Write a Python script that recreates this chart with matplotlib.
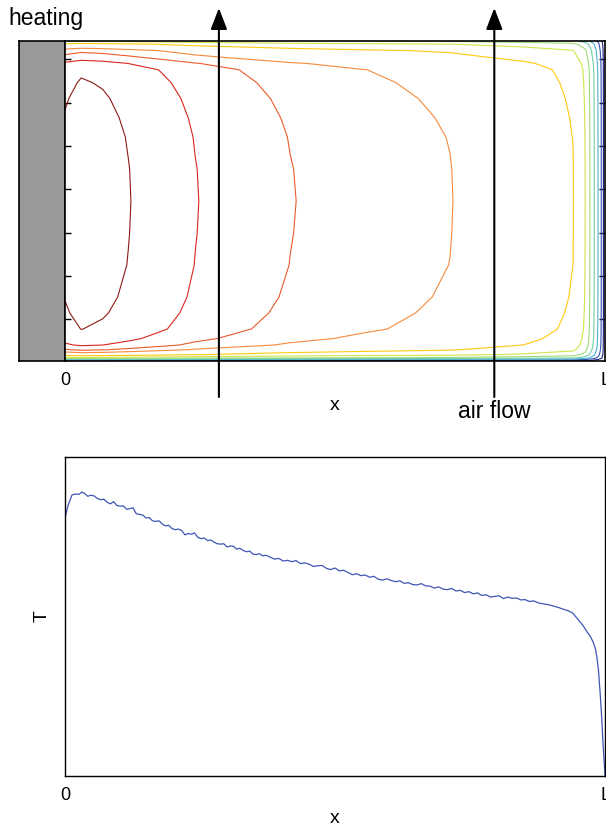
import matplotlib
matplotlib.use("Agg")
import matplotlib.pyplot as plt
import numpy as np

plt.rcParams['font.family'] = ['Liberation Sans', 'DejaVu Sans']

# temperature along the channel (x / L)
x_line = [0.000, 0.006, 0.013, 0.020, 0.026, 0.031, 0.036, 0.042, 0.048, 0.054,
          0.060, 0.066, 0.072, 0.078, 0.084, 0.090, 0.096, 0.102, 0.108, 0.114,
          0.120, 0.126, 0.132, 0.138, 0.144, 0.150, 0.156, 0.162, 0.168, 0.174,
          0.180, 0.186, 0.192, 0.198, 0.204, 0.210, 0.216, 0.222, 0.228, 0.234,
          0.240, 0.246, 0.252, 0.258, 0.264, 0.270, 0.276, 0.282, 0.288, 0.294,
          0.300, 0.306, 0.312, 0.318, 0.324, 0.330, 0.336, 0.342, 0.348, 0.354,
          0.360, 0.366, 0.372, 0.380, 0.388, 0.396, 0.404, 0.412, 0.420, 0.428,
          0.436, 0.444, 0.452, 0.460, 0.468, 0.476, 0.484, 0.492, 0.500, 0.508,
          0.516, 0.524, 0.532, 0.540, 0.548, 0.556, 0.564, 0.572, 0.580, 0.588,
          0.596, 0.604, 0.612, 0.620, 0.628, 0.636, 0.644, 0.652, 0.660, 0.668,
          0.676, 0.684, 0.692, 0.700, 0.708, 0.716, 0.724, 0.732, 0.740, 0.748,
          0.756, 0.764, 0.772, 0.780, 0.788, 0.796, 0.804, 0.812, 0.820, 0.828,
          0.836, 0.844, 0.852, 0.860, 0.868, 0.876, 0.884, 0.892, 0.900, 0.908,
          0.916, 0.924, 0.932, 0.940, 0.948, 0.954, 0.960, 0.967, 0.972, 0.978,
          0.982, 0.985, 0.988, 0.991, 0.994, 0.996, 0.998, 1.000]
t_line = [0.809, 0.850, 0.881, 0.884, 0.883, 0.890, 0.886, 0.877, 0.880, 0.878,
          0.870, 0.866, 0.868, 0.858, 0.853, 0.860, 0.848, 0.846, 0.847, 0.836,
          0.838, 0.841, 0.822, 0.820, 0.818, 0.809, 0.810, 0.800, 0.798, 0.800,
          0.790, 0.784, 0.786, 0.776, 0.772, 0.774, 0.770, 0.756, 0.760, 0.758,
          0.762, 0.748, 0.744, 0.746, 0.738, 0.740, 0.733, 0.728, 0.727, 0.728,
          0.718, 0.721, 0.720, 0.711, 0.714, 0.707, 0.703, 0.705, 0.696, 0.694,
          0.697, 0.690, 0.692, 0.686, 0.680, 0.682, 0.674, 0.676, 0.672, 0.675,
          0.666, 0.668, 0.664, 0.657, 0.659, 0.660, 0.651, 0.647, 0.652, 0.643,
          0.645, 0.638, 0.631, 0.634, 0.628, 0.630, 0.623, 0.626, 0.617, 0.614,
          0.618, 0.613, 0.609, 0.612, 0.604, 0.606, 0.600, 0.599, 0.603, 0.596,
          0.595, 0.589, 0.593, 0.586, 0.584, 0.588, 0.580, 0.582, 0.575, 0.578,
          0.571, 0.574, 0.566, 0.568, 0.561, 0.563, 0.565, 0.556, 0.561, 0.557,
          0.558, 0.552, 0.553, 0.547, 0.549, 0.543, 0.540, 0.538, 0.535, 0.531,
          0.527, 0.522, 0.518, 0.511, 0.495, 0.483, 0.470, 0.451, 0.440, 0.420,
          0.400, 0.373, 0.330, 0.260, 0.180, 0.113, 0.055, 0.000]

# coarse temperature table for the upper panel: mid-height profile along x
field_x = [0.0, 0.03, 0.07, 0.117, 0.18, 0.241, 0.33, 0.417, 0.55, 0.713, 0.85,
           0.941, 0.963, 0.972, 0.980, 0.987, 0.993, 0.997, 1.0]
field_t = [0.96, 0.975, 0.968, 0.952, 0.927, 0.902, 0.876, 0.852, 0.828, 0.802,
           0.752, 0.702, 0.602, 0.502, 0.402, 0.302, 0.202, 0.102, 0.0]
# and relative factor across the height (0 = bottom wall, 1 = top wall)
field_y = [0.0, 0.01, 0.02, 0.035, 0.05, 0.07, 0.1, 0.15, 0.2, 0.3, 0.4, 0.5,
           0.6, 0.7, 0.76, 0.82, 0.87, 0.91, 0.93, 0.95, 0.97, 0.99, 1.0]
field_s = [0.1, 0.6, 0.78, 0.88, 0.93, 0.955, 0.975, 0.985, 0.991, 0.997, 0.999,
           1.0, 0.999, 0.996, 0.992, 0.986, 0.978, 0.968, 0.945, 0.9, 0.86, 0.75,
           0.6]

levels = [0.1, 0.2, 0.3, 0.4, 0.5, 0.6, 0.7, 0.8, 0.85, 0.9, 0.95]
level_colors = ['#1c1f85', '#3355b0', '#4fb3d6', '#6fcfa8', '#9fdc7a', '#d2e44a',
                '#ffc90e', '#f58a3c', '#ec5a2a', '#d9261c', '#8c1a16']

side_ticks = [0.131, 0.266, 0.4, 0.538, 0.672, 0.806, 0.944]
arrow_x = [0.285, 0.795]

W, H = 606, 827
fig = plt.figure(figsize=(W / 100, H / 100), dpi=100)

# heating block
ax_heat = fig.add_axes([19 / W, 1 - 361 / H, 46 / W, 320 / H])
ax_heat.set_facecolor('#999999')
ax_heat.set_xticks([])
ax_heat.set_yticks([])
for s in ax_heat.spines.values():
    s.set_linewidth(1.2)

# channel with temperature contours
ax1 = fig.add_axes([65 / W, 1 - 361 / H, 540 / W, 320 / H])
Z = np.outer(field_s, field_t)
ax1.contour(field_x, field_y, Z, levels=levels, colors=level_colors, linewidths=0.8)
ax1.set_xlim(0, 1)
ax1.set_ylim(0, 1)
ax1.set_yticks(side_ticks)
ax1.set_yticklabels([])
ax1.tick_params(axis='y', direction='in', length=4, width=1, left=True, right=True)
ax1.set_xticks([0, 1], ['0', 'L'])
ax1.tick_params(axis='x', length=0, pad=8, labelsize=13)
ax1.set_xlabel('x', fontsize=14, labelpad=6)
for s in ax1.spines.values():
    s.set_linewidth(1.2)

for xa in arrow_x:
    ax1.annotate('', xy=(xa, 1 - 8 / H), xycoords=('data', 'figure fraction'),
                 xytext=(xa, 1 - 397 / H), textcoords=('data', 'figure fraction'),
                 arrowprops=dict(arrowstyle='-|>,head_length=1.3,head_width=0.5',
                                 mutation_scale=10, lw=1.5, color='black',
                                 shrinkA=0, shrinkB=0))
ax1.annotate('air flow', xy=(arrow_x[1], 1 - 411 / H),
             xycoords=('data', 'figure fraction'), ha='center', va='center',
             fontsize=16.5, annotation_clip=False)
fig.text(8 / W, 1 - 25 / H, 'heating', fontsize=16.5, ha='left', va='baseline')

# temperature along x
ax2 = fig.add_axes([65 / W, 1 - 776 / H, 540 / W, 319 / H])
ax2.plot(x_line, t_line, color='#3f55b4', lw=0.9)
ax2.set_xlim(0, 1)
ax2.set_ylim(0, 1)
ax2.set_yticks([])
ax2.set_xticks([0, 1], ['0', 'L'])
ax2.tick_params(axis='x', length=0, pad=8, labelsize=13)
ax2.set_xlabel('x', fontsize=14, labelpad=4)
ax2.set_ylabel('T', fontsize=14, labelpad=10)
for s in ax2.spines.values():
    s.set_linewidth(1.0)

fig.savefig('out.png', dpi=100)
